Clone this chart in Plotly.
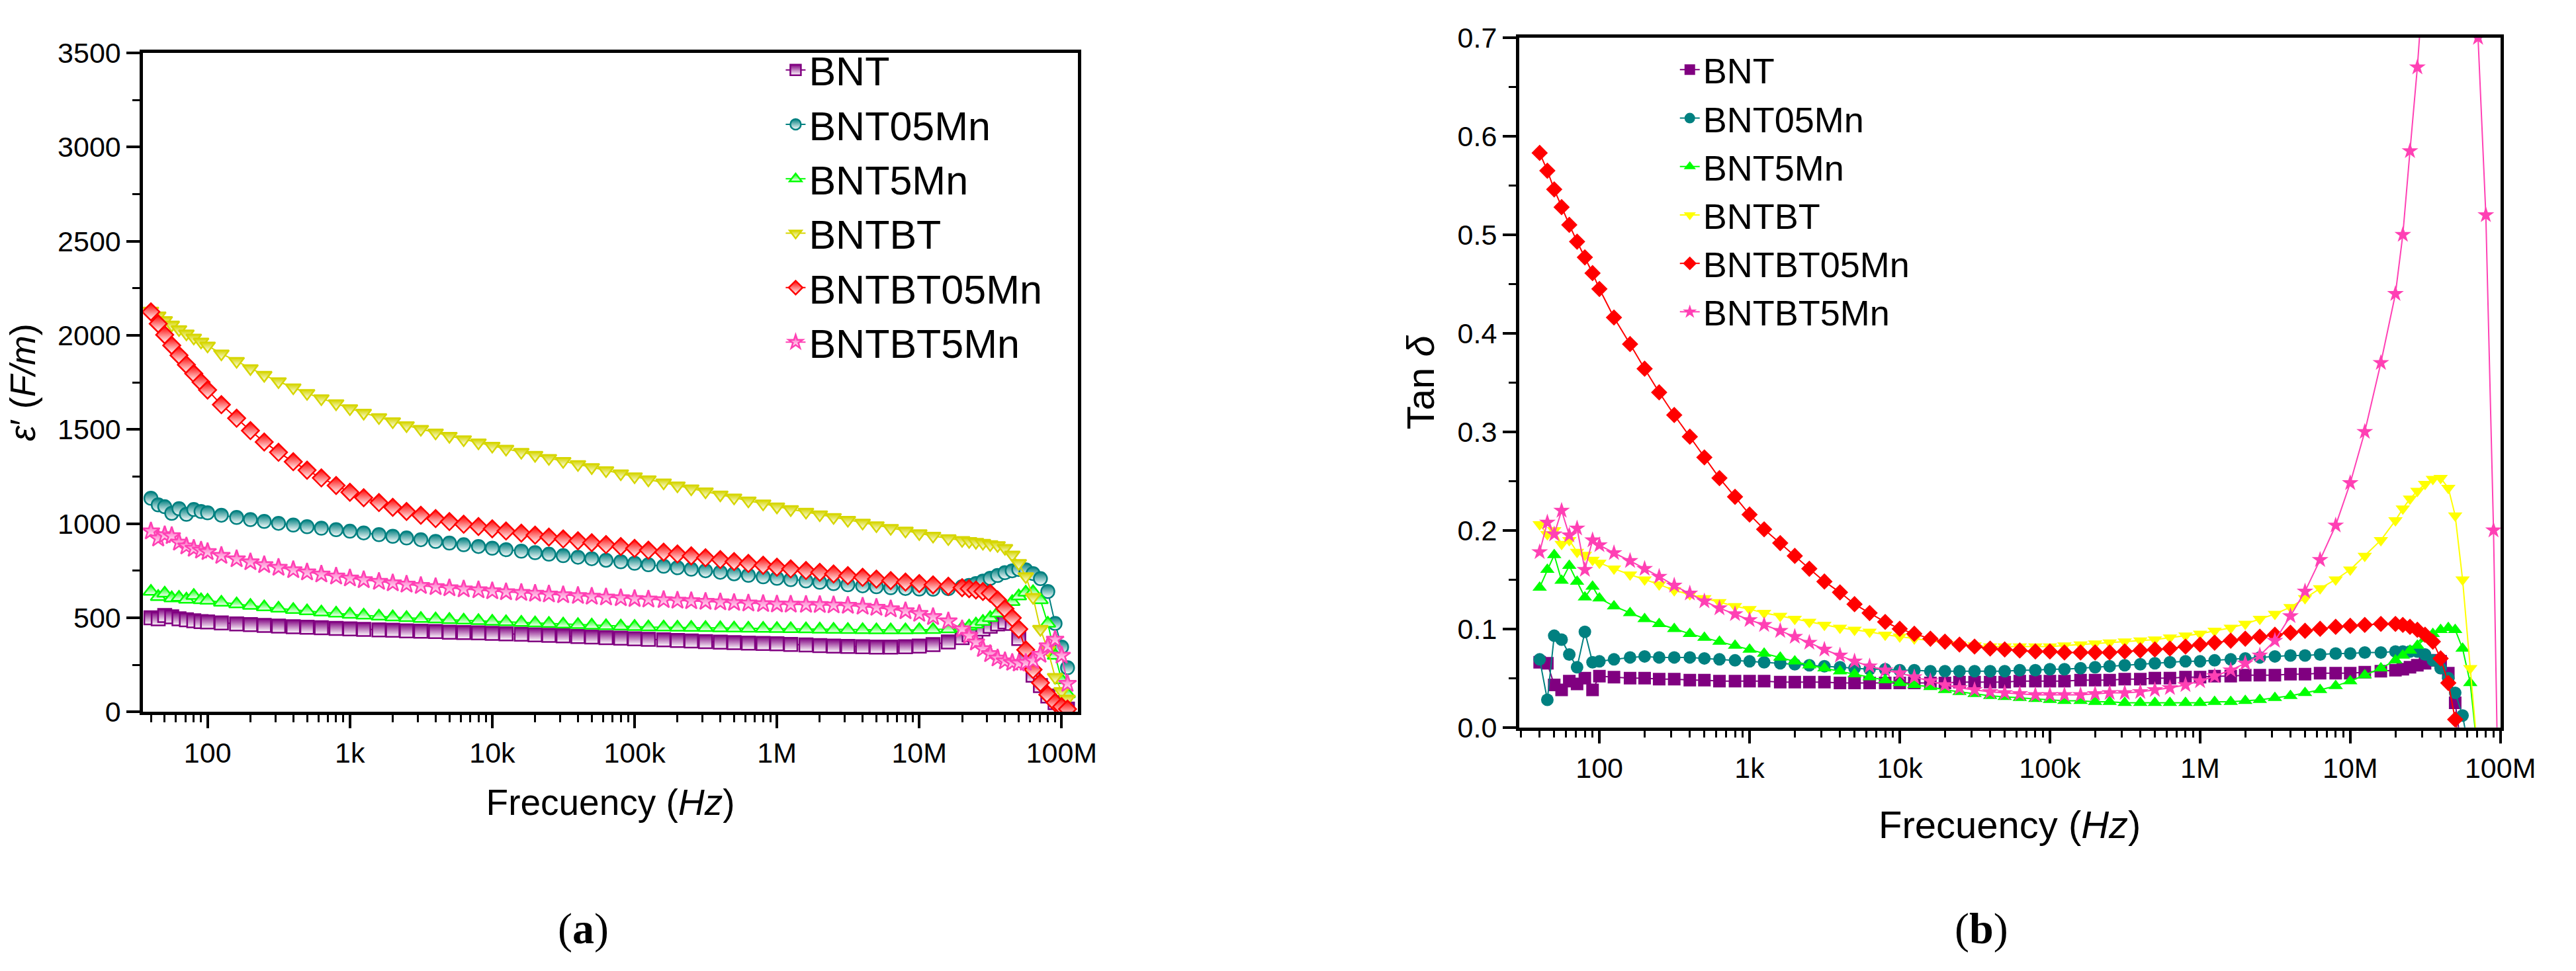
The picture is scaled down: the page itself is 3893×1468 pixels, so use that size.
import plotly.graph_objects as go

# ---------------- data ----------------
FREQ_HZ = [40, 45, 50, 56, 63, 71, 80, 90,
           100, 125, 160, 200, 250, 315, 400, 500, 630, 800,
           1e3, 1.25e3, 1.6e3, 2e3, 2.5e3, 3.15e3, 4e3, 5e3, 6.3e3, 8e3,
           1e4, 1.25e4, 1.6e4, 2e4, 2.5e4, 3.15e4, 4e4, 5e4, 6.3e4, 8e4,
           1e5, 1.25e5, 1.6e5, 2e5, 2.5e5, 3.15e5, 4e5, 5e5, 6.3e5, 8e5,
           1e6, 1.25e6, 1.6e6, 2e6, 2.5e6, 3.15e6, 4e6, 5e6, 6.3e6, 8e6,
           1e7, 1.25e7, 1.6e7,
           2e7, 2.24e7, 2.5e7, 2.8e7, 3.15e7, 3.55e7, 4e7, 4.5e7, 5e7, 5.6e7, 6.3e7, 7.1e7, 8e7, 9e7,
           1e8, 1.1e8]

SERIES_NAMES = ["BNT", "BNT05Mn", "BNT5Mn", "BNTBT", "BNTBT05Mn", "BNTBT5Mn"]

# (a) real permittivity  e' (F/m)
EPS_BNT = [500, 495, 512, 505, 495, 490, 484, 480,
           478, 473, 468, 464, 460, 456, 453, 450, 447, 444,
           441, 439, 436, 434, 431, 429, 427, 424, 422, 420,
           418, 415, 413, 410, 407, 404, 401, 398, 395, 392,
           389, 386, 383, 380, 377, 374, 371, 368, 366, 364,
           362, 359, 356, 353, 350, 348, 346, 345, 345, 346,
           350, 358, 372,
           395, 410, 425, 440, 455, 468, 478, 470, 390, 290, 195, 140, 85, 50,
           28, 15]
EPS_BNT05MN = [1135, 1100, 1090, 1055, 1080, 1050, 1075, 1065,
               1058, 1045, 1033, 1022, 1012, 1002, 993, 984, 976, 968,
               960, 951, 942, 933, 924, 915, 906, 897, 888, 879,
               870, 862, 854, 846, 838, 830, 822, 814, 806, 798,
               790, 782, 774, 766, 758, 750, 742, 734, 726, 718,
               710, 703, 696, 689, 682, 676, 670, 665, 660, 656,
               653, 652, 655,
               665, 672, 682, 695, 710, 725, 740, 750, 757, 755, 735, 708, 640, 470,
               345, 235]
EPS_BNT5MN = [640, 612, 630, 605, 608, 598, 618, 595,
              592, 582, 573, 565, 557, 550, 543, 536, 530, 524,
              518, 513, 508, 504, 500, 496, 493, 490, 487, 484,
              481, 478, 475, 472, 469, 466, 463, 460, 457, 455,
              453, 451, 450, 449, 448, 447, 446, 445, 444, 443,
              442, 441, 440, 439, 438, 437, 436, 435, 435, 435,
              436, 437, 440,
              446, 455, 466, 480, 500, 525, 552, 585, 615, 635, 638, 595, 470, 300,
              170, 95]
EPS_BNTBT = [2130, 2105, 2080, 2056, 2032, 2009, 1987, 1966,
             1945, 1903, 1863, 1825, 1789, 1755, 1723, 1693, 1665, 1638,
             1612, 1588, 1565, 1543, 1522, 1502, 1483, 1465, 1447, 1430,
             1413, 1397, 1380, 1364, 1348, 1332, 1315, 1299, 1283, 1266,
             1250, 1234, 1218, 1202, 1186, 1170, 1154, 1138, 1122, 1106,
             1090, 1076, 1062, 1048, 1034, 1019, 1004, 990, 976, 962,
             948, 935, 922,
             912, 907, 902, 897, 890, 885, 870, 835, 790, 720, 610, 440, 330, 185,
             110, 70]
EPS_BNTBT05MN = [2125, 2062, 2003, 1947, 1894, 1844, 1797, 1752,
                 1710, 1632, 1560, 1494, 1434, 1379, 1329, 1284, 1243, 1203,
                 1167, 1138, 1112, 1087, 1065, 1045, 1027, 1011, 997, 985,
                 973, 961, 950, 939, 929, 919, 909, 899, 889, 879,
                 869, 859, 849, 839, 829, 819, 809, 799, 789, 779,
                 769, 760, 751, 742, 733, 724, 715, 706, 698, 690,
                 682, 675, 668,
                 660, 655, 648, 640, 630, 595, 548, 500, 440, 330, 225, 155, 92, 50,
                 28, 15]
EPS_BNTBT5MN = [960, 922, 940, 935, 900, 880, 868, 858,
                850, 830, 812, 796, 781, 767, 754, 742, 731, 720,
                710, 701, 692, 684, 677, 670, 664, 658, 652, 647,
                642, 637, 633, 629, 625, 621, 617, 613, 609, 605,
                601, 598, 595, 592, 589, 586, 583, 580, 577, 574,
                572, 571, 570, 569, 567, 565, 560, 554, 546, 536,
                522, 505, 482,
                440, 405, 370, 335, 308, 285, 270, 262, 258, 262, 272, 305, 350, 385,
                300, 150]

# (b) loss tangent  tan(delta)
TAN_BNT = [0.066, 0.065, 0.043, 0.038, 0.047, 0.044, 0.050, 0.038,
           0.052, 0.051, 0.050, 0.050, 0.049, 0.049, 0.048, 0.048, 0.047, 0.047,
           0.047, 0.047, 0.046, 0.046, 0.046, 0.046, 0.045, 0.045, 0.045, 0.045,
           0.045, 0.045, 0.045, 0.045, 0.046, 0.046, 0.046, 0.046, 0.047, 0.047,
           0.047, 0.047, 0.048, 0.048, 0.048, 0.049, 0.049, 0.050, 0.050, 0.051,
           0.051, 0.052, 0.052, 0.053, 0.053, 0.053, 0.054, 0.054, 0.055, 0.055,
           0.055, 0.056, 0.057,
           0.058, 0.059, 0.061, 0.063, 0.065, 0.068, 0.067, 0.055, 0.025, -0.03, None, None, None, None,
           None, None]
TAN_BNT05MN = [0.069, 0.028, 0.093, 0.089, 0.074, 0.061, 0.097, 0.066,
               0.067, 0.069, 0.071, 0.072, 0.071, 0.071, 0.071, 0.070, 0.069, 0.068,
               0.067, 0.066, 0.065, 0.064, 0.063, 0.062, 0.061, 0.060, 0.059, 0.059,
               0.058, 0.058, 0.057, 0.057, 0.057, 0.057, 0.057, 0.057, 0.058, 0.058,
               0.059, 0.059, 0.060, 0.061, 0.062, 0.063, 0.064, 0.065, 0.066, 0.067,
               0.067, 0.068, 0.069, 0.070, 0.071, 0.072, 0.073, 0.073, 0.074, 0.075,
               0.075, 0.076, 0.076,
               0.077, 0.077, 0.077, 0.077, 0.074, 0.068, 0.060, 0.050, 0.035, 0.012, -0.03, None, None, None,
               None, None]
TAN_BNT5MN = [0.142, 0.160, 0.175, 0.149, 0.164, 0.148, 0.132, 0.143,
              0.131, 0.123, 0.116, 0.110, 0.105, 0.100, 0.095, 0.091, 0.087, 0.083,
              0.079, 0.075, 0.071, 0.067, 0.063, 0.060, 0.057, 0.054, 0.051, 0.048,
              0.045, 0.043, 0.041, 0.038, 0.036, 0.034, 0.032, 0.031, 0.030, 0.029,
              0.028, 0.027, 0.027, 0.026, 0.026, 0.025, 0.025, 0.025, 0.025, 0.025,
              0.025, 0.026, 0.026, 0.027, 0.028, 0.030, 0.032, 0.035, 0.038, 0.042,
              0.047, 0.053, 0.060,
              0.068, 0.073, 0.078, 0.083, 0.090, 0.095, 0.099, 0.101, 0.099, 0.080, 0.045, -0.03, None, None,
              None, None]
TAN_BNTBT = [0.206, 0.196, 0.200, 0.186, 0.190, 0.178, 0.175, 0.170,
             0.167, 0.161, 0.155, 0.150, 0.145, 0.139, 0.135, 0.131, 0.127, 0.123,
             0.120, 0.116, 0.113, 0.110, 0.107, 0.104, 0.101, 0.099, 0.097, 0.094,
             0.092, 0.090, 0.088, 0.086, 0.084, 0.083, 0.082, 0.082, 0.082, 0.082,
             0.082, 0.083, 0.084, 0.085, 0.086, 0.087, 0.088, 0.089, 0.091, 0.093,
             0.095, 0.098, 0.101, 0.105, 0.110, 0.115, 0.122, 0.131, 0.141, 0.150,
             0.160, 0.174, 0.190,
             0.210, 0.222, 0.232, 0.240, 0.247, 0.252, 0.253, 0.243, 0.215, 0.150, 0.060, -0.03, None, None,
             None, None]
TAN_BNTBT05MN = [0.583, 0.565, 0.546, 0.528, 0.510, 0.493, 0.477, 0.461,
                 0.445, 0.416, 0.389, 0.364, 0.340, 0.317, 0.295, 0.274, 0.253, 0.234,
                 0.216, 0.201, 0.187, 0.174, 0.161, 0.148, 0.137, 0.125, 0.116, 0.107,
                 0.100, 0.095, 0.090, 0.087, 0.084, 0.082, 0.080, 0.079, 0.078, 0.077,
                 0.077, 0.076, 0.076, 0.076, 0.076, 0.077, 0.078, 0.079, 0.080, 0.082,
                 0.084, 0.086, 0.088, 0.090, 0.092, 0.094, 0.096, 0.098, 0.100, 0.102,
                 0.103, 0.104, 0.105,
                 0.105, 0.104, 0.102, 0.099, 0.094, 0.087, 0.070, 0.045, 0.008, -0.03, None, None, None, None,
                 None, None]
TAN_BNTBT5MN = [0.178, 0.208, 0.196, 0.220, 0.195, 0.202, 0.160, 0.190,
                0.185, 0.177, 0.169, 0.161, 0.153, 0.144, 0.136, 0.128, 0.121, 0.115,
                0.109, 0.104, 0.098, 0.092, 0.086, 0.079, 0.073, 0.067, 0.062, 0.058,
                0.055, 0.051, 0.047, 0.043, 0.040, 0.038, 0.036, 0.035, 0.034, 0.033,
                0.033, 0.033, 0.033, 0.034, 0.035, 0.035, 0.036, 0.038, 0.040, 0.043,
                0.047, 0.052, 0.058, 0.065, 0.073, 0.088, 0.113, 0.138, 0.170, 0.205,
                0.248, 0.300, 0.370,
                0.440, 0.500, 0.585, 0.670, 0.780, 0.950, 1.150, 1.300, 1.350, 1.200, 0.980, 0.700, 0.520, 0.200,
                -0.200, None]

X_TICK_VALS = [1e2, 1e3, 1e4, 1e5, 1e6, 1e7, 1e8]
X_TICK_TEXT = ["100", "1k", "10k", "100k", "1M", "10M", "100M"]

# ---------------- styling ----------------
COLORS_A = ["#800080", "#008080", "#00FF00", "#D6D600", "#FF0000", "#FF40B4"]
COLORS_B = ["#800080", "#008080", "#00FF00", "#FFFF00", "#FF0000", "#FF40B4"]
SYMBOLS = ["square", "circle", "triangle-up", "triangle-down", "diamond", "star"]
FONT = "Arial, Liberation Sans, sans-serif"

EPS = [EPS_BNT, EPS_BNT05MN, EPS_BNT5MN, EPS_BNTBT, EPS_BNTBT05MN, EPS_BNTBT5MN]
TAN = [TAN_BNT, TAN_BNT05MN, TAN_BNT5MN, TAN_BNTBT, TAN_BNTBT05MN, TAN_BNTBT5MN]

fig = go.Figure()

for name, vals, col, sym in zip(SERIES_NAMES, EPS, COLORS_A, SYMBOLS):
    fig.add_trace(go.Scatter(
        x=FREQ_HZ, y=vals, name=name, mode="lines+markers",
        xaxis="x", yaxis="y", legend="legend",
        line=dict(color=col, width=2),
        marker=dict(symbol=sym, size=20, color=col,
                    gradient=dict(type="vertical", color="white"),
                    line=dict(color=col, width=2.5)),
    ))

for name, vals, col, sym in zip(SERIES_NAMES, TAN, COLORS_B, SYMBOLS):
    fig.add_trace(go.Scatter(
        x=FREQ_HZ, y=vals, name=name, mode="lines+markers",
        xaxis="x2", yaxis="y2", legend="legend2",
        line=dict(color=col, width=2),
        marker=dict(symbol=sym, size=19, color=col, line=dict(width=0)),
    ))

minor_vals = [m * 10 ** e for e in range(1, 9) for m in range(2, 10)]

def xaxis_style(domain, rng, anchor, tsize, standoff):
    return dict(
        type="log", domain=domain, range=rng, anchor=anchor,
        showline=True, linewidth=4.5, linecolor="black", mirror=True,
        showgrid=False, zeroline=False,
        ticks="outside", ticklen=20, tickwidth=4, tickcolor="black",
        tickmode="array", tickvals=X_TICK_VALS, ticktext=X_TICK_TEXT,
        tickfont=dict(family=FONT, size=43, color="black"),
        minor=dict(tickmode="array", tickvals=minor_vals, ticks="outside",
                   ticklen=11, tickwidth=3, tickcolor="black", showgrid=False),
        title=dict(text="Frecuency (<i>Hz</i>)",
                   font=dict(family=FONT, size=tsize, color="black"), standoff=standoff),
    )

def yaxis_style(domain, rng, anchor, dtick, minor_dtick, title, tfmt, standoff, tsize):
    return dict(
        domain=domain, range=rng, anchor=anchor,
        showline=True, linewidth=4.5, linecolor="black", mirror=True,
        showgrid=False, zeroline=False,
        ticks="outside", ticklen=20, tickwidth=4, tickcolor="black",
        tick0=0, dtick=dtick, tickformat=tfmt,
        tickfont=dict(family=FONT, size=43, color="black"),
        minor=dict(dtick=minor_dtick, tick0=0, ticks="outside",
                   ticklen=11, tickwidth=3, tickcolor="black", showgrid=False),
        title=dict(text=title, font=dict(family=FONT, size=tsize, color="black"),
                   standoff=standoff),
    )

fig.update_layout(
    width=3893, height=1468, autosize=False,
    margin=dict(l=0, r=0, t=0, b=0),
    paper_bgcolor="white", plot_bgcolor="white",
    font=dict(family=FONT, color="black"),
    xaxis=xaxis_style([0.0563, 0.4243], [1.5465, 8.114], "y", 55, 34),
    yaxis=yaxis_style([0.2589, 0.9605], [0, 3500], "x", 500, 250,
                      "<i>ε</i>′ (<i>F/m</i>)", "d", 18, 54),
    xaxis2=xaxis_style([0.598, 0.9843], [1.465, 8.0], "y2", 58, 44),
    yaxis2=yaxis_style([0.2425, 0.9768], [0, 0.7], "x2", 0.1, 0.05,
                       "Tan <i>δ</i>", ".1f", 18, 58),
    legend=dict(x=0.308, y=0.975, xanchor="left", yanchor="top",
                bgcolor="rgba(0,0,0,0)", borderwidth=0, tracegroupgap=0,
                font=dict(family=FONT, size=61, color="black")),
    legend2=dict(x=0.660, y=0.972, xanchor="left", yanchor="top",
                 bgcolor="rgba(0,0,0,0)", borderwidth=0, tracegroupgap=0,
                 font=dict(family=FONT, size=54, color="black")),
    annotations=[
        dict(text="(<b>a</b>)", xref="paper", yref="paper", x=0.2296, y=0.028,
             xanchor="center", yanchor="middle", showarrow=False,
             font=dict(family="Liberation Serif, Times New Roman, serif", size=66, color="black")),
        dict(text="(<b>b</b>)", xref="paper", yref="paper", x=0.780, y=0.028,
             xanchor="center", yanchor="middle", showarrow=False,
             font=dict(family="Liberation Serif, Times New Roman, serif", size=66, color="black")),
    ],
)

fig.write_html("out.html", config={"displayModeBar": False},
               post_script="document.body.style.margin='0';")
